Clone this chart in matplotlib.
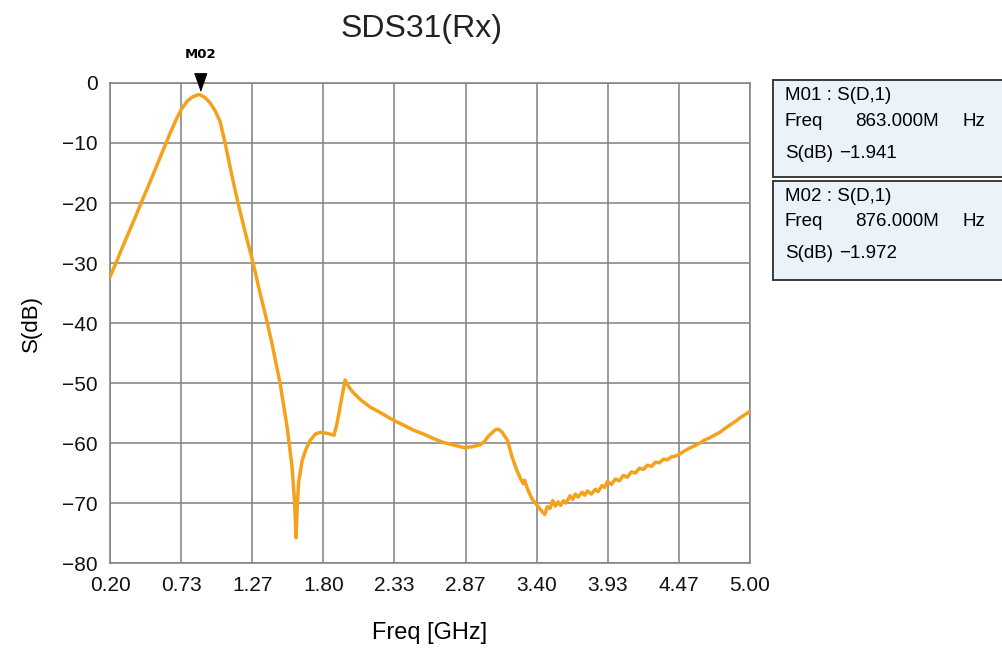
import matplotlib
matplotlib.use('Agg')
import matplotlib.pyplot as plt
import numpy as np
from matplotlib.patches import Rectangle
from matplotlib.transforms import blended_transform_factory

# 测量数据: 频率 [GHz] 和 S(dB)
freq = [0.200, 0.250, 0.300, 0.350, 0.400, 0.450, 0.500, 0.550, 0.600, 0.650,
        0.700, 0.740, 0.780, 0.820, 0.863, 0.876, 0.910, 0.950, 0.990, 1.025,
        1.063, 1.110, 1.160, 1.215, 1.273, 1.325, 1.378, 1.420, 1.475, 1.528,
        1.565, 1.585, 1.595, 1.605, 1.615, 1.640, 1.670, 1.700, 1.740, 1.780,
        1.830, 1.880, 1.900, 1.925, 1.963, 1.990, 2.020, 2.080, 2.150, 2.225,
        2.325, 2.400, 2.470, 2.550, 2.620, 2.700, 2.770, 2.860, 2.920, 2.975,
        3.010, 3.040, 3.090, 3.115, 3.140, 3.180, 3.215, 3.250, 3.280, 3.300,
        3.310, 3.330, 3.350, 3.370, 3.400, 3.440, 3.460, 3.480, 3.500, 3.520,
        3.540, 3.560, 3.580, 3.600, 3.620, 3.650, 3.670, 3.690, 3.710, 3.740,
        3.760, 3.780, 3.810, 3.840, 3.860, 3.890, 3.910, 3.930, 3.960, 3.990,
        4.020, 4.050, 4.080, 4.110, 4.140, 4.170, 4.200, 4.230, 4.260, 4.290,
        4.320, 4.350, 4.380, 4.410, 4.440, 4.475, 4.510, 4.550, 4.590, 4.625,
        4.660, 4.700, 4.740, 4.775, 4.810, 4.850, 4.890, 4.925, 4.960, 5.000]
s_db = [-32.3, -29.7, -27.0, -24.4, -21.8, -19.1, -16.5, -13.8, -11.1, -8.4,
        -5.9, -4.2, -3.0, -2.3, -1.94, -1.97, -2.4, -3.3, -4.7, -6.4,
        -10.0, -15.0, -20.0, -25.0, -30.0, -35.0, -39.8, -44.0, -50.0, -57.3,
        -64.0, -70.0, -75.8, -70.0, -66.5, -63.0, -61.0, -59.6, -58.5, -58.2,
        -58.4, -58.7, -57.0, -54.0, -49.5, -50.6, -51.5, -52.8, -54.0, -54.9,
        -56.2, -57.0, -57.8, -58.5, -59.2, -59.9, -60.3, -60.8, -60.6, -60.3,
        -59.7, -58.8, -57.8, -57.7, -58.2, -59.5, -62.3, -64.5, -66.0, -66.8,
        -66.2, -67.6, -68.6, -69.5, -70.3, -71.4, -71.9, -70.6, -70.9, -69.6,
        -70.5, -69.8, -70.4, -69.6, -70.0, -68.8, -69.4, -68.5, -69.0, -68.2,
        -68.7, -68.0, -68.5, -67.7, -68.1, -67.1, -67.4, -66.4, -66.9, -66.0,
        -66.3, -65.4, -65.7, -64.8, -65.0, -64.2, -64.4, -63.7, -63.9, -63.2,
        -63.3, -62.7, -62.8, -62.3, -62.2, -61.8, -61.3, -60.8, -60.4, -60.0,
        -59.5, -59.1, -58.6, -58.2, -57.6, -57.0, -56.4, -55.8, -55.3, -54.7]

x_ticklabels = ['0.20', '0.73', '1.27', '1.80', '2.33', '2.87', '3.40', '3.93', '4.47', '5.00']
y_ticks = [0, -10, -20, -30, -40, -50, -60, -70, -80]

# 标记
markers = [
    {'name': 'M01', 'trace': 'S(D,1)', 'freq': '863.000M', 'db': '-1.941'},
    {'name': 'M02', 'trace': 'S(D,1)', 'freq': '876.000M', 'db': '-1.972'},
]
m2_freq = 0.876

plt.rcParams['font.family'] = ['Liberation Sans', 'DejaVu Sans']

fig = plt.figure(figsize=(10.03, 6.54), dpi=100)
ax = fig.add_axes([0.1097, 0.1391, 0.6381, 0.7340])

ax.plot(freq, s_db, color='#f4a21c', lw=2.5, zorder=3)

ax.set_xlim(0.2, 5.0)
ax.set_ylim(-80, 0)
ax.set_xticks(np.linspace(0.2, 5.0, len(x_ticklabels)))
ax.set_xticklabels(x_ticklabels, fontsize=15)
ax.set_yticks(y_ticks)
ax.set_yticklabels([str(v).replace('-', '\u2212') for v in y_ticks], fontsize=15)
ax.tick_params(length=0, pad=9, colors='#111111')
ax.grid(True, color='#808080', lw=1.1)
for sp in ax.spines.values():
    sp.set_color('#808080')
    sp.set_linewidth(1.1)

ax.set_xlabel('Freq [GHz]', fontsize=17, labelpad=20)
ax.set_ylabel('S(dB)', fontsize=16, labelpad=14)
fig.text(0.420, 0.955, 'SDS31(Rx)', fontsize=23, ha='center', va='center', color='#222222')

# M02 三角标记
tri = [(-0.7, 1), (0.7, 1), (0, -1)]
trans = blended_transform_factory(ax.transData, ax.transAxes)
ax.plot([m2_freq], [1.003], marker=tri, ms=12.5, color='black', transform=trans,
        clip_on=False, zorder=6, ls='none')
ax.text(m2_freq, 1.045, markers[1]['name'], transform=trans, ha='center', va='bottom',
        fontsize=9.5, fontweight='bold', fontfamily='DejaVu Sans')

# 右侧标记信息框
box_tops = [80, 181]
box_h = [97, 99]
W, H = 1003, 654
fs = 13.5
for m, top, h in zip(markers, box_tops, box_h):
    fig.patches.append(Rectangle((773 / W, 1 - (top + h) / H), 0.26, h / H, transform=fig.transFigure,
                                 facecolor='#eaf2fa', edgecolor='#3a3a3a', lw=1.4))
    y1 = 1 - (top + 15) / H
    y2 = 1 - (top + 41) / H
    y3 = 1 - (top + 73) / H
    fig.text(785 / W, y1, f"{m['name']} : {m['trace']}", fontsize=fs, va='center')
    fig.text(785 / W, y2, 'Freq', fontsize=fs, va='center')
    fig.text(855 / W, y2, m['freq'], fontsize=fs, va='center')
    fig.text(963 / W, y2, 'Hz', fontsize=fs, va='center')
    fig.text(785 / W, y3, 'S(dB)', fontsize=fs, va='center')
    fig.text(839 / W, y3, m['db'].replace('-', '\u2212'), fontsize=fs, va='center')

fig.savefig('out.png', dpi=100)
